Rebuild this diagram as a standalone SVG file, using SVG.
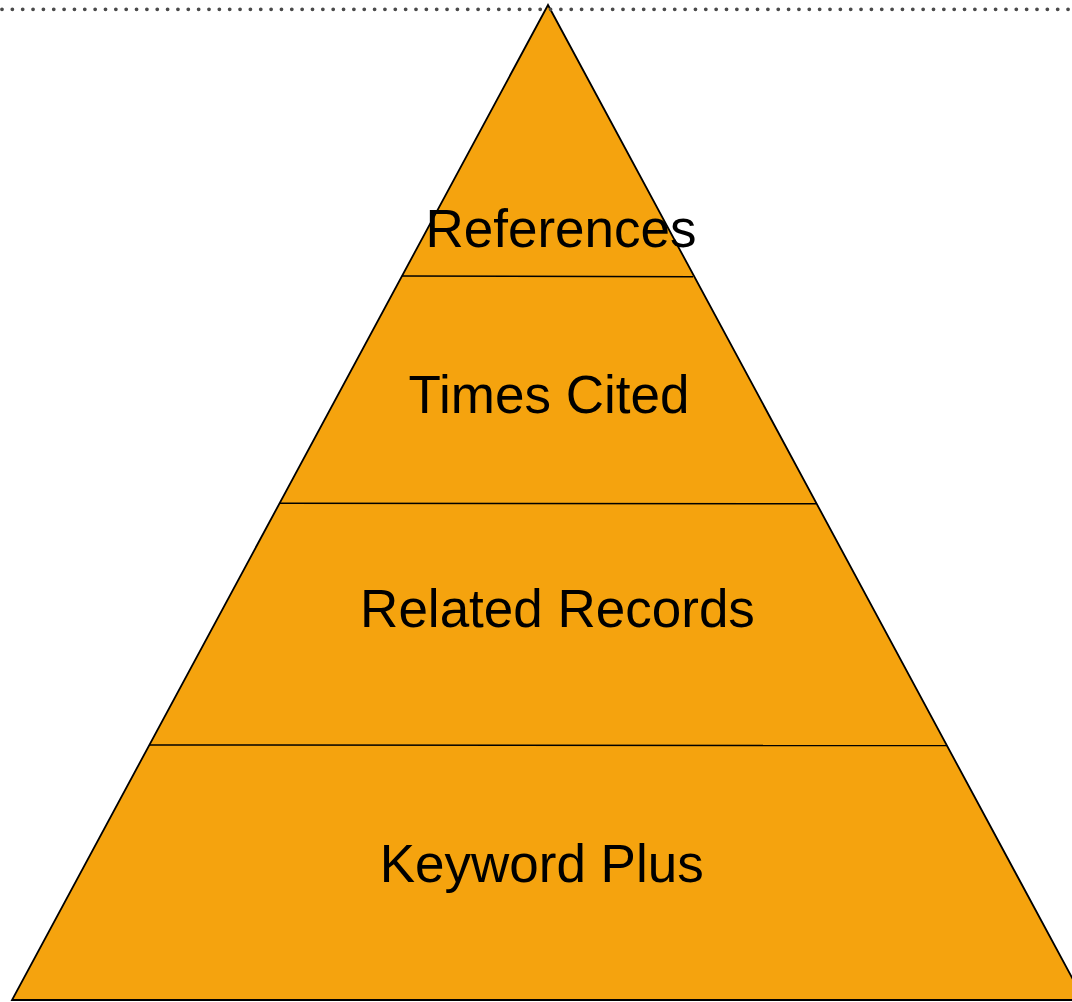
<svg xmlns="http://www.w3.org/2000/svg" width="1072" height="1002" viewBox="0 0 1072 1002">
<style>
.lbl{font-family:"Liberation Sans",Arial,sans-serif;font-size:53px;fill:#000;text-anchor:middle}
.div{stroke:#000;stroke-width:1.5;fill:none}
</style>
<rect width="1072" height="1002" fill="#fff"/>
<g id="pyramid">
<polygon points="548,5 12,1000 1084,1000" fill="#F5A30E" stroke="#000" stroke-width="1.8" stroke-linejoin="miter"/>
</g>
<line x1="2" y1="9.3" x2="1072" y2="9.3" stroke="#4a4a4a" stroke-width="3.8" stroke-linecap="round" stroke-dasharray="0 10.35"/>
<g id="connectors">
<line class="div" x1="402" y1="276" x2="693" y2="276.8"/>
<line class="div" x1="280" y1="503.2" x2="816" y2="503.8"/>
<line class="div" x1="149" y1="745" x2="947" y2="745.5"/>
</g>
<g id="node-references"><text class="lbl" x="561" y="246.7">References</text></g>
<g id="node-times-cited"><text class="lbl" x="549" y="413.3">Times Cited</text></g>
<g id="node-related-records"><text class="lbl" x="557.5" y="626.7">Related Records</text></g>
<g id="node-keyword-plus"><text class="lbl" x="541.7" y="881.7">Keyword Plus</text></g>
</svg>
